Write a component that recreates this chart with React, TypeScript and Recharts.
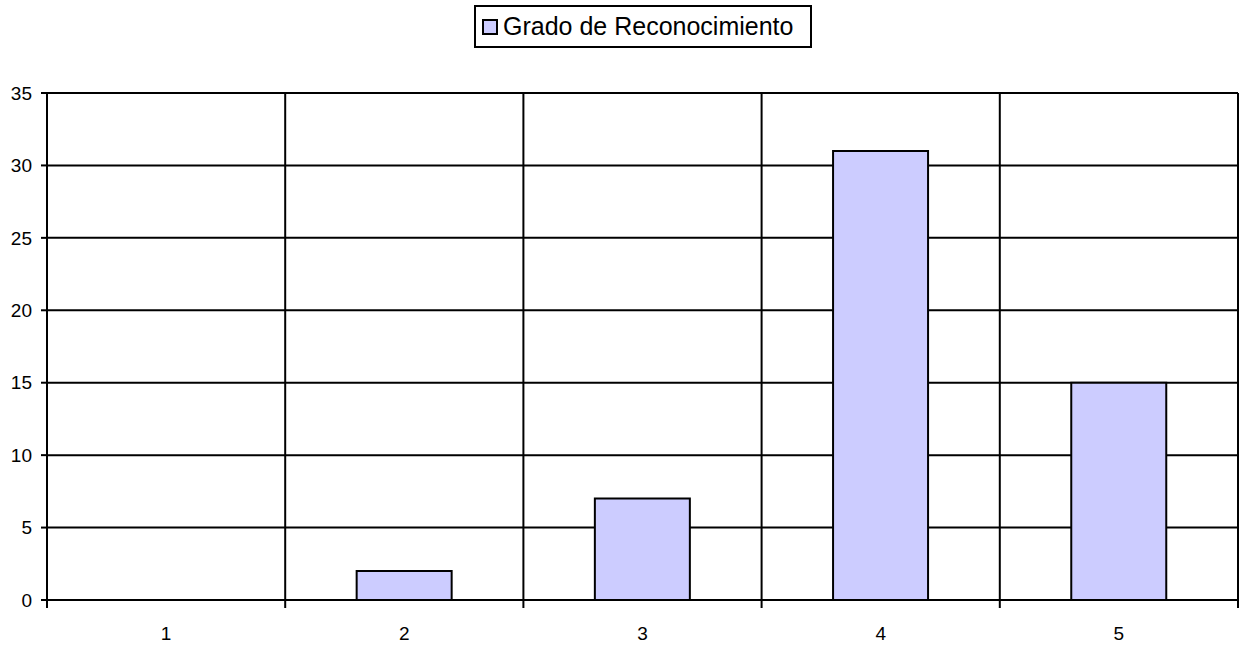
import { BarChart, Bar, XAxis, YAxis, CartesianGrid, Legend } from 'recharts';

// Values
const categories = ['1', '2', '3', '4', '5'];
const gradoValues = [0, 2, 7, 31, 15];
const yTicks = [0, 5, 10, 15, 20, 25, 30, 35];
const seriesName = 'Grado de Reconocimiento';

const data = categories.map((cat, i) => ({ cat, grado: gradoValues[i] }));

const CHART_W = 1239;
const CHART_H = 648;
const MARGIN = { top: 93, right: 1, bottom: 0, left: 0 };
const Y_WIDTH = 47;
const X_HEIGHT = 48;
const PLOT_W = CHART_W - MARGIN.left - MARGIN.right - Y_WIDTH;
const BAND = PLOT_W / categories.length;
const X_TICK_SIZE = 8;
const FONT = '"Liberation Sans", Arial, sans-serif';
const TICK_FONT = 19;
const BAR_FILL = '#CCCCFF';

// labels centred in the band, tick marks at the band edges
const CategoryTick = (props: any) => {
  const { x, y, payload, index } = props;
  const axisY = y - X_TICK_SIZE;
  const left = x - BAND / 2;
  return (
    <g>
      <line x1={left} x2={left} y1={axisY} y2={axisY + X_TICK_SIZE} stroke="#000" strokeWidth={2} />
      {index === categories.length - 1 && (
        <line x1={left + BAND} x2={left + BAND} y1={axisY} y2={axisY + X_TICK_SIZE} stroke="#000" strokeWidth={2} />
      )}
      <text x={x} y={axisY + 40} textAnchor="middle" fontSize={TICK_FONT} fontFamily={FONT} fill="#000">
        {payload.value}
      </text>
    </g>
  );
};

const LegendBox = ({ payload }: any) => (
  <div
    style={{
      width: 338,
      height: 43,
      boxSizing: 'border-box',
      border: '2px solid #000',
      background: '#fff',
      display: 'flex',
      alignItems: 'center',
      justifyContent: 'flex-start',
      paddingLeft: 6,
      fontFamily: FONT,
      fontSize: 25,
      color: '#000',
    }}
  >
    {(payload || []).map((entry: any) => (
      <div key={entry.value} style={{ display: 'flex', alignItems: 'center' }}>
        <span
          style={{
            display: 'inline-block',
            width: 16,
            height: 16,
            boxSizing: 'border-box',
            border: '2px solid #000',
            background: BAR_FILL,
            marginRight: 5,
          }}
        />
        <span>{entry.value}</span>
      </div>
    ))}
  </div>
);

export default function App() {
  return (
    <div style={{ position: 'absolute', left: 0, top: 0, background: '#fff' }}>
      <BarChart width={CHART_W} height={CHART_H} data={data} margin={MARGIN} barCategoryGap="30%">
        <CartesianGrid
          stroke="#000"
          strokeWidth={2}
          verticalCoordinatesGenerator={({ offset }: any) =>
            Array.from({ length: categories.length + 1 }, (_, i) => offset.left + (i * offset.width) / categories.length)
          }
        />
        <XAxis
          dataKey="cat"
          height={X_HEIGHT}
          axisLine={{ stroke: '#000', strokeWidth: 2 }}
          tickLine={false}
          tickSize={X_TICK_SIZE}
          tickMargin={0}
          tick={<CategoryTick />}
          interval={0}
        />
        <YAxis
          width={Y_WIDTH}
          domain={[0, 35]}
          ticks={yTicks}
          interval={0}
          tickSize={6}
          tickMargin={9}
          axisLine={{ stroke: '#000', strokeWidth: 2 }}
          tickLine={{ stroke: '#000', strokeWidth: 2 }}
          tick={{ fill: '#000', fontSize: TICK_FONT, fontFamily: FONT }}
        />
        <Legend
          layout="horizontal"
          verticalAlign="middle"
          align="center"
          content={<LegendBox />}
          wrapperStyle={{ top: 5, left: 474, width: 338, height: 43 }}
        />
        <Bar
          dataKey="grado"
          name={seriesName}
          fill={BAR_FILL}
          stroke="#000"
          strokeWidth={2}
          isAnimationActive={false}
        />
      </BarChart>
    </div>
  );
}
